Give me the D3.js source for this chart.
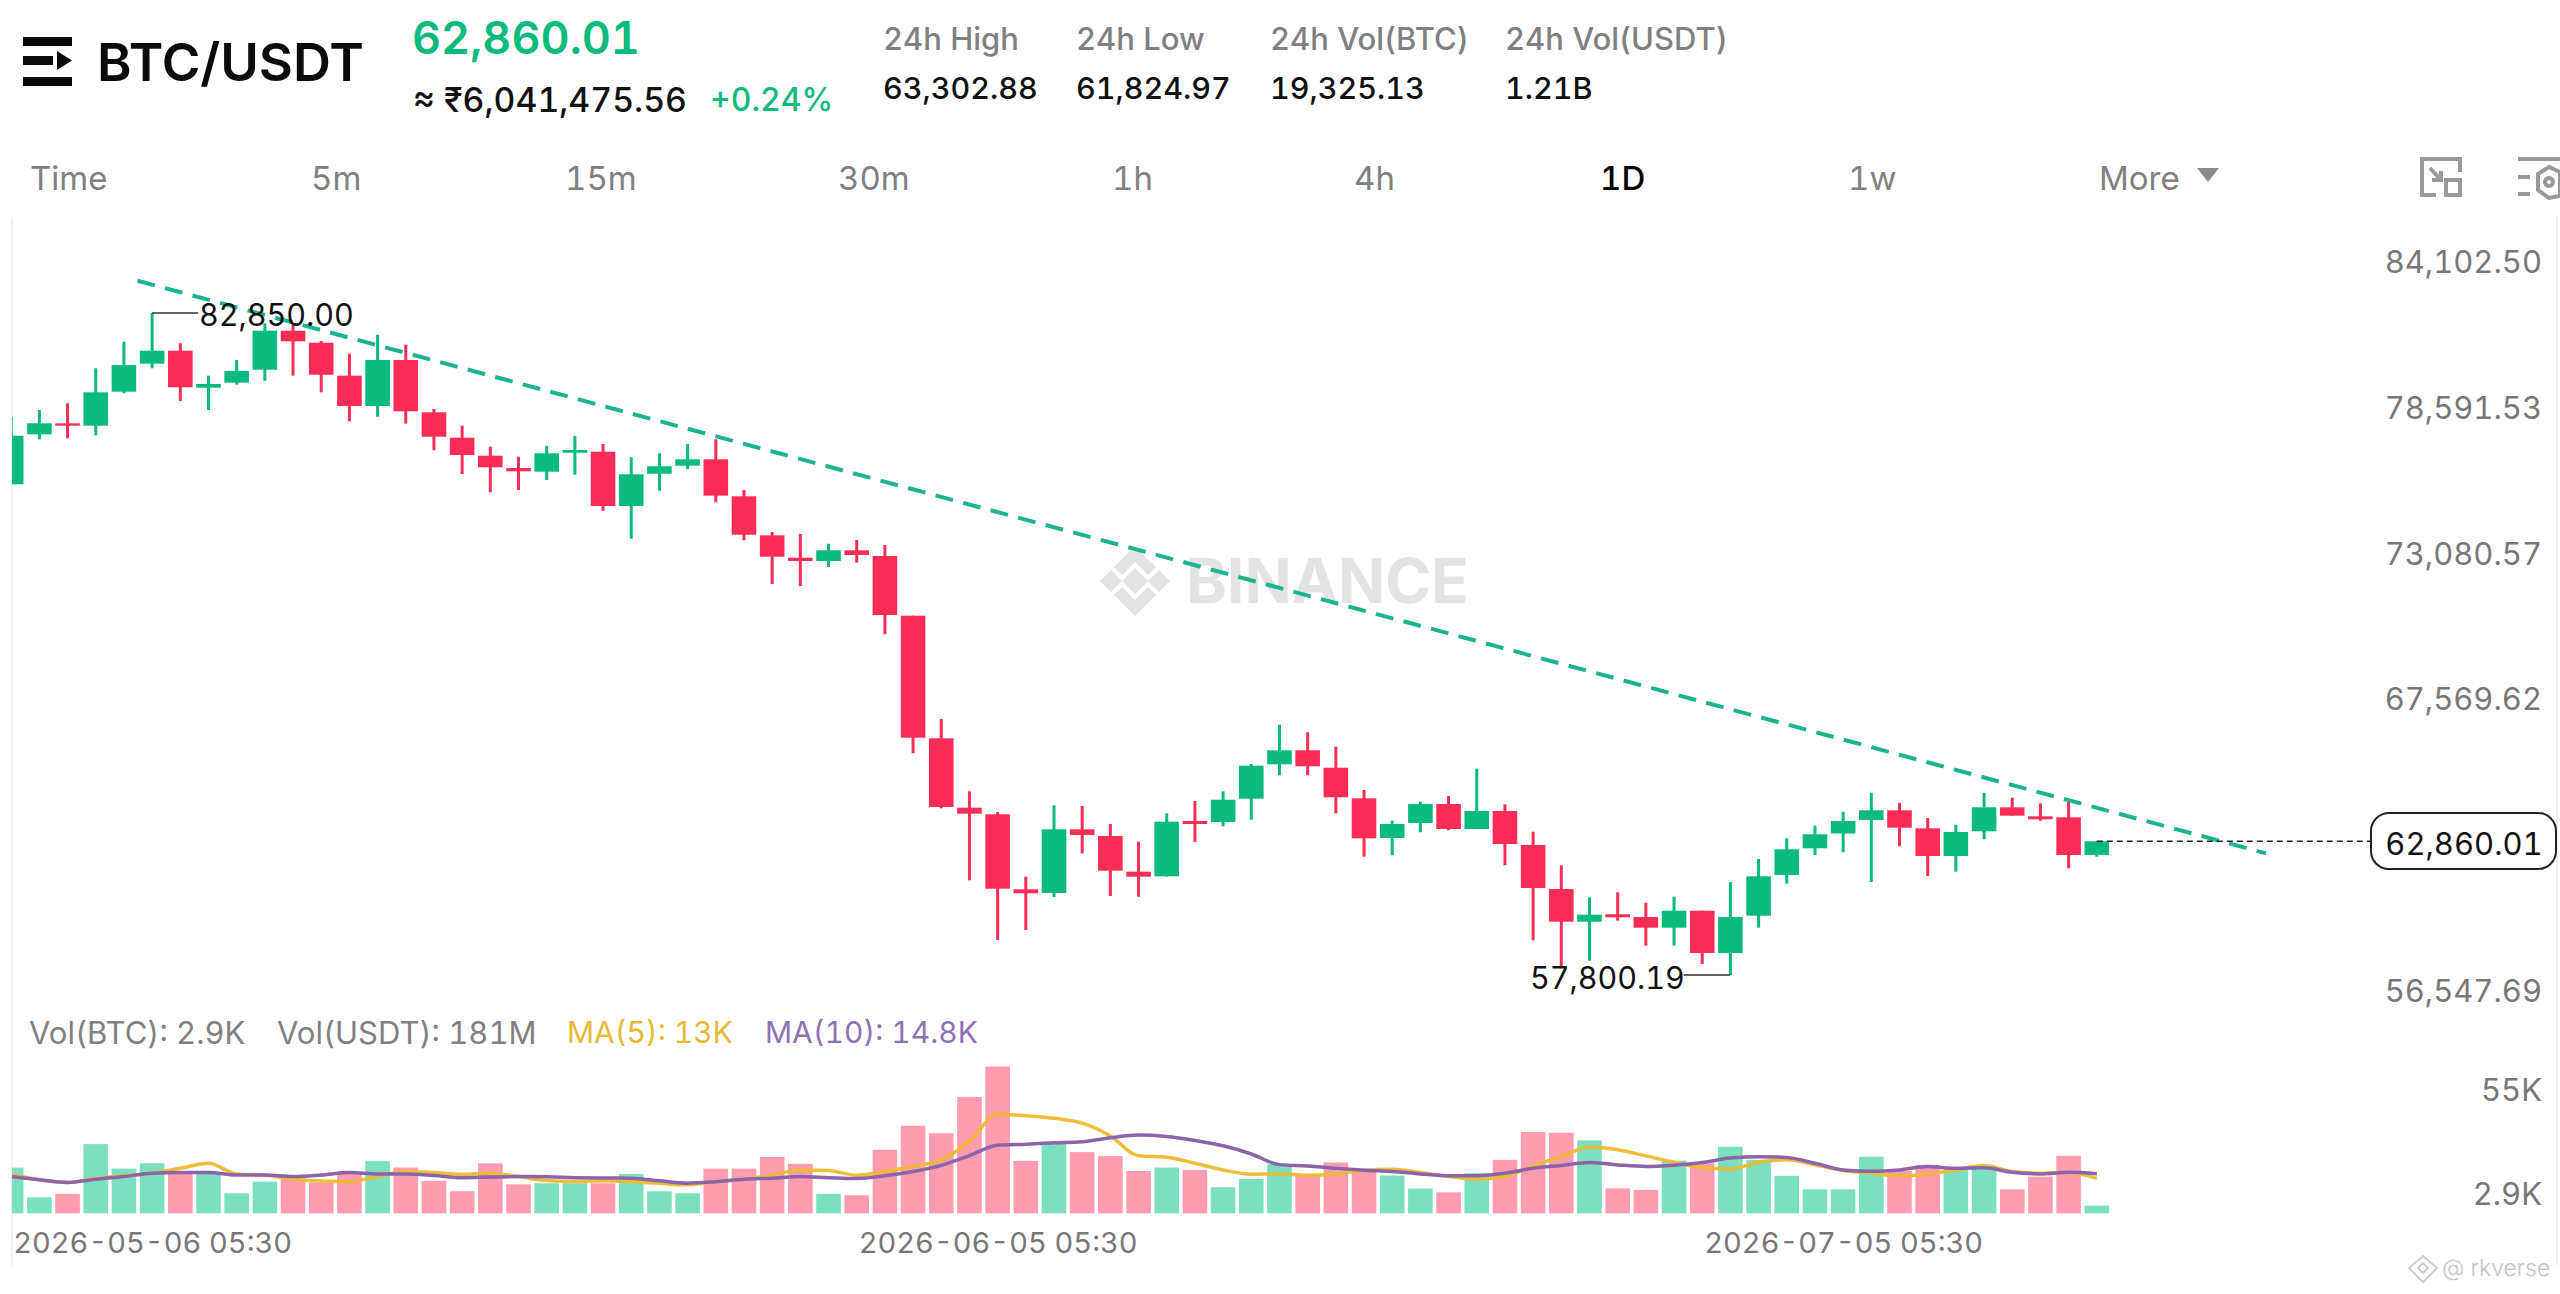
<!DOCTYPE html>
<html>
<head>
<meta charset="utf-8">
<script src="https://cdnjs.cloudflare.com/ajax/libs/d3/7.8.5/d3.min.js"></script>
<style>
  html, body { margin: 0; background: #fff; }
  svg { display: block; }
  text { font-family: Inter, "Noto Sans", sans-serif; font-feature-settings: "tnum"; }
  .axis path, .axis line { display: none; }
  .axis text { font-family: Inter, "Noto Sans", sans-serif; font-size: 31px; fill: #777; }
</style>
</head>
<body>
<svg id="chart" width="2560" height="1294"></svg>
<script>
var opens = [76368,78260,78676,78586,79872,80932,81424,80023,80213,80705,82180,81726,80478,79331,81072,79093,78131,77450,76985,76845,77564,77602,75547,76769,77072,77314,75914,74438,73591,73466,73871,73655,71396,66757,64131,63881,61043,60903,63313,63060,61709,61535,63627,63590,64471,65773,66303,65644,64486,62984,63552,64271,63325,64006,62719,61054,59817,60097,59995,59590,60233,58632,60044,61584,62594,63154,63665,64032,63351,62303,63238,64146,63805,63767,62341];
var closes = [78207,78676,78586,79849,80882,81424,80039,80163,80655,82180,81779,80515,79331,81072,79130,78169,77477,77011,76860,77541,77666,75547,76746,77049,77314,75937,74461,73628,73466,73871,73693,71422,66779,64157,63904,61066,60892,63313,63098,61747,61520,63601,63514,64433,65720,66303,65698,64524,62973,63514,64271,63325,64006,62757,61092,59817,60082,59983,59590,60233,58632,59995,61535,62557,63124,63627,64032,63374,62303,63211,64146,63828,63692,62341,62860.01];
var highs = [78926,79180,79433,80758,81764,82850,81704,80478,81072,82460,82396,81791,81310,82029,81651,79218,78586,77791,77412,77829,78196,77893,77390,77541,77893,78071,76152,74563,74487,74120,74260,74071,71396,67487,64751,63968,61520,64221,64195,63514,62844,63919,64384,64751,65784,67271,66984,66439,64800,63639,64358,64573,65606,64259,63222,61951,60740,60929,60536,60763,60233,61319,62189,62973,63450,63979,64698,64308,63741,63487,64698,64509,64297,64422,62860.01];
var lows = [76368,78071,78109,78222,79812,80758,79520,79180,80137,80288,80478,79849,78752,78926,78661,77655,76758,76065,76152,76531,76731,75369,74310,76126,76936,75687,74249,72595,72520,73239,73401,70692,66189,64108,61383,59124,59503,60752,62405,60789,60763,61520,62833,63427,63677,65357,65357,63919,62276,62329,63200,63276,63325,61951,59113,58140,58341,59855,58909,58909,58216,57800.19,59590,61255,62341,62443,61319,62670,61546,61709,62935,63828,63639,61837,62276];
// volume in thousands of BTC
var volumes = [17.2,6.0,7.3,26.0,16.8,18.8,15.7,15.1,7.5,11.9,13.2,11.6,14.8,19.6,17.2,12.2,8.3,18.8,10.9,11.3,11.3,11.3,14.8,8.3,7.5,16.8,16.8,21.2,18.6,7.3,6.8,23.9,32.9,30.1,43.7,55.2,19.7,26.4,23.0,21.5,15.9,17.2,16.3,9.8,12.9,18.6,14.4,19.1,16.3,14.2,9.3,7.9,15.1,20.1,30.6,30.3,27.4,9.4,8.8,19.8,18.8,25.0,20.1,14.1,9.0,9.0,21.3,15.9,18.2,16.9,16.9,9.0,13.8,21.6,2.9];
var ma5 = [14.7,12.6,11.6,13.2,14.1,15.1,16.9,18.8,14.8,14.4,12.8,12.1,11.9,13.8,15.7,15.3,14.7,15.1,13.8,12.3,11.9,12.2,11.9,11.3,10.7,11.9,12.8,14.4,16.3,16.1,14.3,15.7,17.6,20.1,27.0,37.2,36.7,35.7,33.9,29.1,21.6,21.1,18.8,16.3,14.7,14.8,14.3,14.8,16.2,16.6,15.3,13.8,12.8,13.8,17.8,21.3,24.9,23.9,21.6,19.2,17.2,16.7,19.2,20.1,18.2,16.1,15.1,14.1,14.8,16.3,18.0,15.7,15.1,15.3,13.1];
var ma10 = [13.8,12.6,11.6,12.8,13.8,15.1,15.3,15.3,14.4,14.4,13.8,14.4,15.3,14.8,14.8,14.2,13.4,13.6,13.8,13.7,13.4,13.3,13.2,12.2,11.3,11.9,12.8,13.2,13.8,13.4,13.1,14.1,15.7,18.0,21.7,25.6,26.0,26.5,26.9,28.4,29.4,28.9,27.4,25.4,22.3,18.3,17.8,16.9,16.2,15.7,14.8,14.1,14.1,15.1,16.9,18.0,19.1,18.2,17.6,18.1,19.1,20.8,21.3,21.0,18.8,16.3,15.8,16.3,17.6,16.9,17.1,15.4,14.8,15.4,14.9];

var priceTicks = [84102.50, 78591.53, 73080.57, 67569.62, 56547.69];
var volTicks = [55, 2.9];
var dateIndexes = [5, 35, 65];
var dateLabels = ["2026-05-06 05:30", "2026-06-05 05:30", "2026-07-05 05:30"];
var lastPrice = 62860.01;
var highIndex = 5, highPrice = 82850.00;
var lowIndex = 61, lowPrice = 57800.19;
// trend line drawn by the author: [candle index, price]
var trendStart = [4.48, 84072];
var trendEnd = [80.0, 62405];

var timeframes = ["Time", "5m", "15m", "30m", "1h", "4h", "1D", "1w", "More"];
var timeframeX = [30, 311, 565, 838, 1112, 1354, 1600, 1848, 2099];
var stats = [
  ["24h High", "63,302.88", 883],
  ["24h Low", "61,824.97", 1076],
  ["24h Vol(BTC)", "19,325.13", 1270],
  ["24h Vol(USDT)", "1.21B", 1505]
];

var green = "#0bba7d", red = "#fb2d57", greenLight = "#7ae0bf", redLight = "#ff9cb0";
var yellow = "#eeb92f", purple = "#8b64aa", gray = "#808080";

var svg = d3.select("#chart");

var x = d3.scaleLinear().domain([0, 74]).range([11.2, 2096.8]);
var yPrice = d3.scaleLinear().domain([57800.19, 82850]).range([975, 313]);
var yVol = d3.scaleLinear().domain([0, 55]).range([1213.3, 1067]);
var candleWidth = 24.6;

function label(s, px, py, size, color, weight, anchor) {
  return svg.append("text")
    .attr("x", px).attr("y", py)
    .attr("dominant-baseline", "central")
    .attr("text-anchor", anchor || "start")
    .style("font-size", size + "px")
    .style("font-weight", weight || 400)
    .attr("fill", color)
    .text(s);
}

function drawHeader() {
  var icon = svg.append("g").attr("fill", "#0b0b0b");
  icon.append("rect").attr("x", 23).attr("y", 37).attr("width", 49).attr("height", 9);
  icon.append("rect").attr("x", 23).attr("y", 56).attr("width", 30).attr("height", 9);
  icon.append("path").attr("d", "M57 51 L72 60.5 L57 70 Z");
  icon.append("rect").attr("x", 23).attr("y", 77).attr("width", 49).attr("height", 9);

  label("BTC/USDT", 97, 62, 52.5, "#0b0b0b", 600);
  label("62,860.01", 412, 37, 45, green, 600);
  label("≈ ₹6,041,475.56", 413, 99, 33.8, "#111", 500);
  label("+0.24%", 710, 99, 32, green, 500);

  stats.forEach(function(s) {
    label(s[0], s[2], 38, 31, gray, 500);
    label(s[1], s[2], 87, 30.5, "#111", 500);
  });

  timeframes.forEach(function(t, i) {
    label(t, timeframeX[i], 178, 33, t == "1D" ? "#000" : gray, t == "1D" ? 500 : 400);
  });
  svg.append("path").attr("d", "M2197 168 L2219 168 L2208 182 Z").attr("fill", "#8a8a8a");

  // toolbar icons
  var tool = svg.append("g").attr("fill", "none").attr("stroke", "#999").attr("stroke-width", 4);
  tool.append("path").attr("d", "M2443 159 L2422 159 L2422 195 L2436 195 M2443 159 L2460 159 L2460 172");
  tool.append("rect").attr("x", 2446).attr("y", 180).attr("width", 14).attr("height", 15);
  tool.append("path").attr("d", "M2430 168 L2441 180 M2441 171 L2441 180 L2432 180");
  tool.append("path").attr("d", "M2518 159 L2560 159 M2518 177 L2530 177 M2518 194 L2530 194");
  tool.append("path").attr("d", "M2549 167 L2560 172 L2560 196 L2549 198 L2538 190 L2538 174 Z");
  tool.append("circle").attr("cx", 2549).attr("cy", 182).attr("r", 4);
}

function drawFrame() {
  svg.append("line").attr("x1", 12).attr("x2", 12).attr("y1", 217).attr("y2", 1265)
    .attr("stroke", "#efefef").attr("stroke-width", 2);
  svg.append("line").attr("x1", 2557).attr("x2", 2557).attr("y1", 217).attr("y2", 1265)
    .attr("stroke", "#efefef").attr("stroke-width", 2);
  svg.append("defs").append("clipPath").attr("id", "plot")
    .append("rect").attr("x", 12).attr("y", 200).attr("width", 2540).attr("height", 1060);
}

function drawWatermark() {
  var g = svg.append("g").attr("fill", "#e3e3e3");
  var cx = 1135, cy = 581;
  g.append("path").attr("transform", "translate(" + cx + "," + cy + ")")
    .attr("d", "M0 -13 L13 0 L0 13 L-13 0 Z M0 -35 L21 -14 L13 -6 L0 -19 L-13 -6 L-21 -14 Z M0 35 L21 14 L13 6 L0 19 L-13 6 L-21 14 Z M-35 0 L-24 -11 L-13 0 L-24 11 Z M35 0 L24 -11 L13 0 L24 11 Z");
  label("BINANCE", 1186, 580, 62, "#e3e3e3", 700);
}

function drawCandles() {
  var g = svg.append("g").attr("clip-path", "url(#plot)");
  var idx = d3.range(opens.length);
  function col(i) { return closes[i] >= opens[i] ? green : red; }

  g.selectAll(".wick").data(idx).enter().append("line")
    .attr("class", "wick")
    .attr("x1", function(i) { return x(i); })
    .attr("x2", function(i) { return x(i); })
    .attr("y1", function(i) { return yPrice(highs[i]); })
    .attr("y2", function(i) { return yPrice(lows[i]); })
    .attr("stroke", col)
    .attr("stroke-width", 3);

  g.selectAll(".body").data(idx).enter().append("rect")
    .attr("class", "body")
    .attr("x", function(i) { return x(i) - candleWidth / 2; })
    .attr("width", candleWidth)
    .attr("y", function(i) { return yPrice(Math.max(opens[i], closes[i])); })
    .attr("height", function(i) { return Math.abs(yPrice(opens[i]) - yPrice(closes[i])); })
    .attr("fill", col);
}

function drawTrend() {
  svg.append("line")
    .attr("x1", x(trendStart[0])).attr("y1", yPrice(trendStart[1]))
    .attr("x2", x(trendEnd[0])).attr("y2", yPrice(trendEnd[1]))
    .attr("stroke", "#1ab491").attr("stroke-width", 4)
    .attr("stroke-dasharray", "18 10.5");
}

function drawPriceNotes() {
  // high marker
  svg.append("path").attr("fill", "none").attr("stroke", "#333").attr("stroke-width", 1.5)
    .attr("d", "M" + x(highIndex) + " " + yPrice(highPrice) + " L" + (x(highIndex) + 46) + " " + yPrice(highPrice));
  label(d3.format(",.2f")(highPrice), 199, yPrice(highPrice) + 1, 30.5, "#111");

  // low marker
  svg.append("path").attr("fill", "none").attr("stroke", "#333").attr("stroke-width", 1.5)
    .attr("d", "M" + x(lowIndex) + " " + yPrice(lowPrice) + " L" + (x(lowIndex) - 47) + " " + yPrice(lowPrice));
  label(d3.format(",.2f")(lowPrice), 1530, yPrice(lowPrice) + 2, 30.5, "#111");

  // last price line and box
  svg.append("line")
    .attr("x1", x(74)).attr("x2", 2371)
    .attr("y1", yPrice(lastPrice)).attr("y2", yPrice(lastPrice))
    .attr("stroke", "#222").attr("stroke-width", 1.5).attr("stroke-dasharray", "6 4");
  svg.append("rect").attr("x", 2371).attr("y", 813).attr("width", 185).attr("height", 56).attr("rx", 18)
    .attr("fill", "#fff").attr("stroke", "#222").attr("stroke-width", 2);
  label(d3.format(",.2f")(lastPrice), 2464, 843, 31, "#111", 400, "middle");
}

function drawPriceAxis() {
  var axis = d3.axisLeft(yPrice)
    .tickValues(priceTicks)
    .tickSize(0)
    .tickFormat(d3.format(",.2f"));
  svg.append("g").attr("class", "axis")
    .attr("transform", "translate(2545,-17)")
    .call(axis);
}

function drawVolume() {
  var g = svg.append("g").attr("clip-path", "url(#plot)");
  g.selectAll(".vol").data(volumes).enter().append("rect")
    .attr("class", "vol")
    .attr("x", function(d, i) { return x(i) - candleWidth / 2; })
    .attr("width", candleWidth)
    .attr("y", function(d) { return yVol(d); })
    .attr("height", function(d) { return yVol(0) - yVol(d); })
    .attr("fill", function(d, i) { return closes[i] >= opens[i] ? greenLight : redLight; });

  var line = d3.line()
    .x(function(d, i) { return x(i); })
    .y(function(d) { return yVol(d); })
    .curve(d3.curveMonotoneX);

  g.append("path").datum(ma5).attr("d", line)
    .attr("fill", "none").attr("stroke", yellow).attr("stroke-width", 3.5).attr("opacity", 0.95);
  g.append("path").datum(ma10).attr("d", line)
    .attr("fill", "none").attr("stroke", purple).attr("stroke-width", 3.5);

  // legend
  label("Vol(BTC): 2.9K", 29, 1032, 31, gray);
  label("Vol(USDT): 181M", 277, 1032, 31, gray);
  label("MA(5): 13K", 567, 1032, 30, "#e6ba30");
  label("MA(10): 14.8K", 765, 1032, 30, "#8f72b3");

  var axis = d3.axisLeft(yVol)
    .tickValues(volTicks)
    .tickSize(0)
    .tickFormat(function(d) { return d == 55 ? "55K" : "2.9K"; });
  var ax = svg.append("g").attr("class", "axis")
    .attr("transform", "translate(2545,0)")
    .call(axis);
  // top label sits under its level, bottom one above it
  ax.selectAll("text").attr("dy", function(d) { return d == 55 ? 33 : -1; });
}

function drawDateAxis() {
  var axis = d3.axisBottom(x)
    .tickValues(dateIndexes)
    .tickSize(0)
    .tickFormat(function(d, i) { return dateLabels[i]; });
  var ax = svg.append("g").attr("class", "axis")
    .attr("transform", "translate(0,1229)")
    .call(axis);
  ax.selectAll("text").attr("dy", "0.71em").style("font-size", "29px");
}

function drawCredit() {
  label("@ rkverse", 2442, 1268, 23, "#c4c4c4", 300);
  svg.append("path").attr("fill", "none").attr("stroke", "#ccc").attr("stroke-width", 2)
    .attr("d", "M2423 1256 L2437 1268 L2423 1282 L2409 1268 Z M2423 1263 L2428 1268 L2423 1273 L2418 1268 Z");
}

drawWatermark();
drawHeader();
drawFrame();
drawCandles();
drawTrend();
drawPriceNotes();
drawPriceAxis();
drawVolume();
drawDateAxis();
drawCredit();
</script>
</body>
</html>
